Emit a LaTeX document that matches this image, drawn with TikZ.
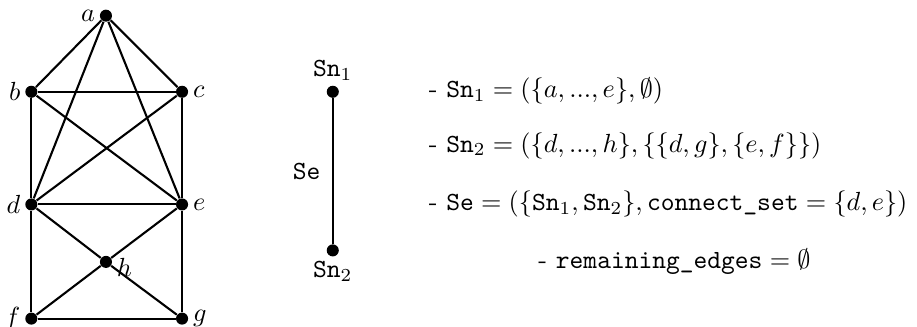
\documentclass[tikz,border=0pt]{standalone}
\usepackage{amsmath,amssymb}
\usetikzlibrary{positioning}

\begin{document}
\begin{tikzpicture}[
  vertex/.style={circle,fill=black,inner sep=0pt,minimum size=4.6pt},
  edge/.style={thick},
  info/.style={anchor=west,inner sep=0pt},
  every label/.style={inner sep=1.5pt},
]
\useasboundingbox (0,0) rectangle (12.29,4.38);

% Graph vertices
\node[vertex,label=left:$a$]  (a) at (1.42,4.17) {};
\node[vertex,label=left:$b$]  (b) at (0.42,3.15) {};
\node[vertex,label=right:$c$] (c) at (2.44,3.15) {};
\node[vertex,label=left:$d$]  (d) at (0.42,1.64) {};
\node[vertex,label=right:$e$] (e) at (2.44,1.64) {};
\node[vertex,label={[yshift=-2pt]right:$h$}] (h) at (1.42,0.87) {};
\node[vertex,label=left:$f$]  (f) at (0.42,0.11) {};
\node[vertex,label=right:$g$] (g) at (2.44,0.11) {};

% Graph edges
\foreach \u/\v in {a/b,a/c,a/d,a/e,b/c,b/d,b/e,c/d,c/e,d/e,d/h,h/e,d/f,e/g,f/h,h/g,f/g}
  \draw[edge] (\u) -- (\v);

% Decomposition tree
\node[vertex,label=above:$\texttt{Sn}_1$] (Sn1) at (4.46,3.15) {};
\node[vertex,label=below:$\texttt{Sn}_2$,below=1.95cm of Sn1] (Sn2) {};
\draw[edge] (Sn1) -- node[left=1pt] {\texttt{Se}} (Sn2);

% Description
\node[info] (t1) at (5.74,3.16) {- $\texttt{Sn}_1 = (\{a, ..., e\}, \emptyset)$};
\node[info] (t2) at (5.74,2.43) {- $\texttt{Sn}_2 = (\{d, ..., h\}, \{\{d, g\}, \{e, f\}\})$};
\node[info] (t3) at (5.74,1.65) {- $\texttt{Se} = (\{\texttt{Sn}_1, \texttt{Sn}_2\}, \texttt{connect\_set} = \{d, e\})$};
\node[info] (t4) at (7.21,0.87) {- $\texttt{remaining\_edges} = \emptyset$};

\end{tikzpicture}
\end{document}
